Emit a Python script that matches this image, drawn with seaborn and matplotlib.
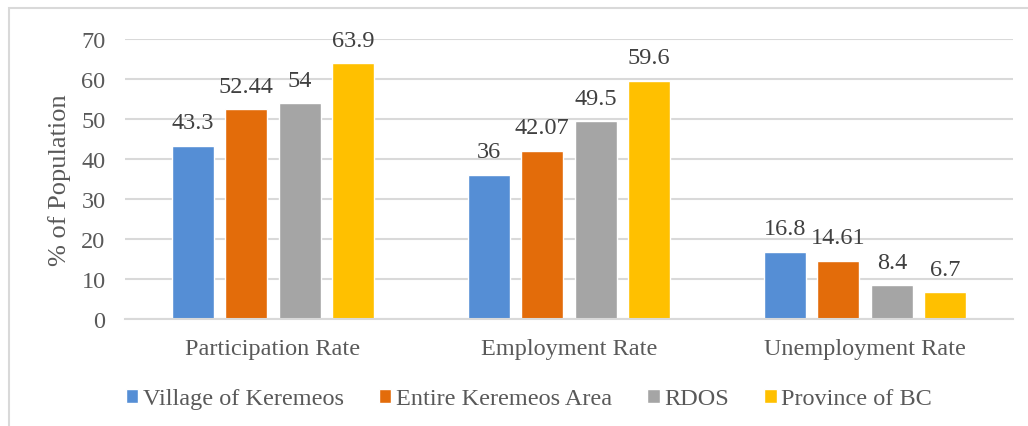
import matplotlib
matplotlib.use("Agg")
import matplotlib.pyplot as plt
from matplotlib.patches import Rectangle
import seaborn as sns
import pandas as pd

categories = ["Participation Rate", "Employment Rate", "Unemployment Rate"]
series = ["Village of Keremeos", "Entire Keremeos Area", "RDOS", "Province of BC"]
village = [43.3, 36, 16.8]
entire_area = [52.44, 42.07, 14.61]
rdos = [54, 49.5, 8.4]
province = [63.9, 59.6, 6.7]
colors = ["#558ED5", "#E36C0A", "#A5A5A5", "#FFC000"]
y_ticks = [0, 10, 20, 30, 40, 50, 60, 70]

rows = []
for name, vals in zip(series, [village, entire_area, rdos, province]):
    for cat, v in zip(categories, vals):
        rows.append({"category": cat, "series": name, "value": v})
df = pd.DataFrame(rows)

sns.set_theme(style="white")
plt.rcParams["font.family"] = ["Liberation Serif", "DejaVu Serif"]
text_color = "#595959"
grid_color = "#D9D9D9"
fs = 17.5

fig = plt.figure(figsize=(10.28, 4.27), dpi=100)
ax = fig.add_axes([125 / 1028, 1 - 320 / 427, 888 / 1028, 280 / 427])

sns.barplot(data=df, x="category", y="value", hue="series", order=categories,
            hue_order=series, palette=colors, saturation=1, width=0.723,
            gap=0.215, ax=ax, legend=True)

for cont, vals in zip(ax.containers, [village, entire_area, rdos, province]):
    ax.bar_label(cont, labels=[f"{v:g}" for v in vals], padding=9,
                 fontsize=fs, color="#404040")

ax.set_ylim(0, 70)
ax.set_xlim(-0.5, 2.5)
ax.set_yticks(y_ticks)
ax.yaxis.grid(True, color=grid_color, linewidth=1.5)
ax.set_axisbelow(True)
for s in ["top", "right", "left"]:
    ax.spines[s].set_visible(False)
ax.spines["bottom"].set_color(grid_color)
ax.spines["bottom"].set_linewidth(1.5)
ax.tick_params(axis="y", length=0, pad=14, labelsize=fs, labelcolor=text_color)
ax.tick_params(axis="x", length=0, pad=14, labelsize=fs, labelcolor=text_color)
ax.set_xlabel("")
ax.set_ylabel("% of Population", fontsize=19, color=text_color)
ax.yaxis.set_label_coords(-54 / 888, 0.5)

handles, labels = ax.get_legend_handles_labels()
ax.get_legend().remove()
fig.legend(handles, labels, loc="center", bbox_to_anchor=(529 / 1028, 1 - 400 / 427),
           ncol=4, frameon=False, fontsize=fs, labelcolor=text_color,
           handlelength=0.5, handleheight=0.5, handletextpad=0.2,
           columnspacing=1.45)

# outer chart border
fig.patches.append(Rectangle((9 / 1028, -0.1), 1.1, 1 - 9 / 427 + 0.1,
                             transform=fig.transFigure, fill=False,
                             edgecolor=grid_color, linewidth=1.5))

fig.savefig("out.png", dpi=100)
